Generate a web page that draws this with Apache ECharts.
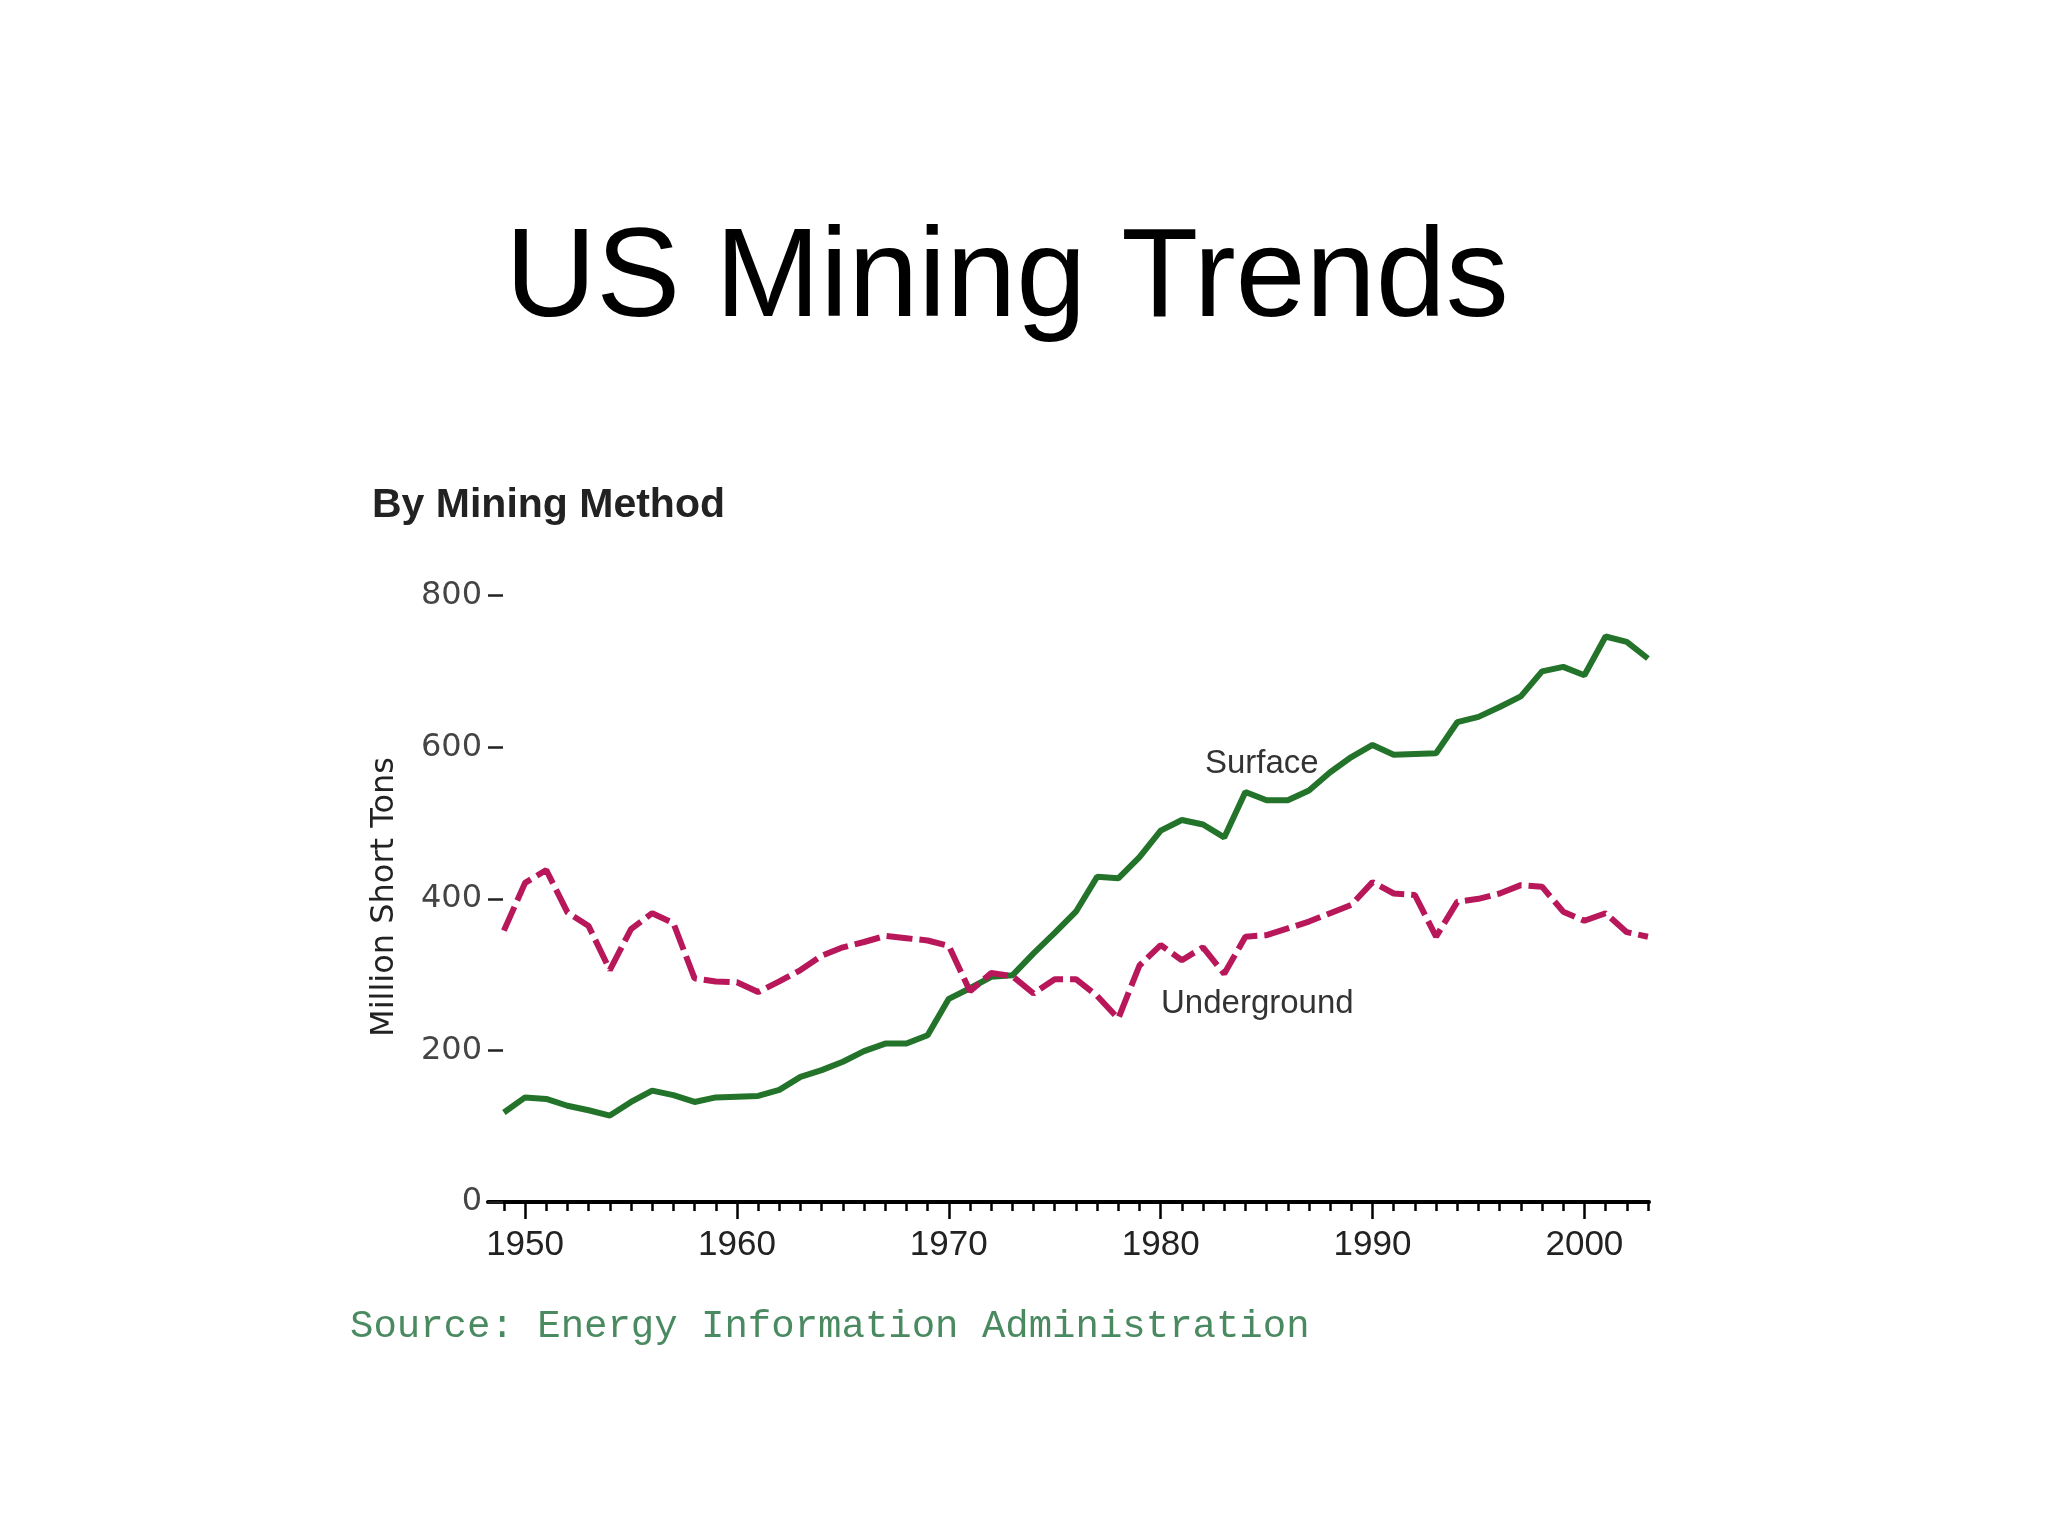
<!DOCTYPE html>
<html>
<head>
<meta charset="utf-8">
<script src="https://cdn.jsdelivr.net/npm/echarts@6/dist/echarts.min.js"></script>
<style>
html,body{margin:0;padding:0;background:#fff;}
#chart{width:2048px;height:1536px;}
</style>
</head>
<body>
<div id="chart"></div>
<script>
var years = [1949,1950,1951,1952,1953,1954,1955,1956,1957,1958,1959,1960,1961,1962,1963,1964,1965,1966,1967,1968,1969,1970,1971,1972,1973,1974,1975,1976,1977,1978,1979,1980,1981,1982,1983,1984,1985,1986,1987,1988,1989,1990,1991,1992,1993,1994,1995,1996,1997,1998,1999,2000,2001,2002,2003];
var surface = [118,138,136,127,121,114,132,147,141,132,138,139,140,148,165,174,185,199,209,209,220,268,282,297,299,328,355,383,429,427,455,490,504,498,481,541,530,530,543,567,587,603,590,591,592,633,640,653,667,700,706,695,746,739,717];
var underground = [358,421,438,382,364,306,360,381,368,295,291,290,277,291,306,325,336,343,351,348,345,338,278,302,298,275,294,294,272,242,312,339,319,336,301,350,352,361,370,381,392,422,407,405,350,396,400,407,418,416,383,371,381,356,350];
var yTicks = [0,200,400,600,800];
var decadeTicks = [1950,1960,1970,1980,1990,2000];
var yearTicks = years;

var chart = echarts.init(document.getElementById('chart'));

function pairs(vals){ return years.map(function(y,i){ return [y, vals[i]]; }); }

var option = {
  backgroundColor: '#ffffff',
  animation: false,
  grid: { left: 488, right: 399, top: 595.6, bottom: 334 },
  xAxis: [{
    type: 'value', min: 1948.25, max: 2003.05,
    axisLine: { show: true, lineStyle: { color: '#000', width: 4 } },
    axisTick: { show: true, customValues: yearTicks, length: 9, lineStyle: { color: '#000', width: 2.5 } },
    axisLabel: { show: true, customValues: decadeTicks, margin: 26, color: '#222', fontFamily: 'Liberation Sans', fontSize: 35,
      formatter: function(v){ return String(v); } },
    splitLine: { show: false }
  },{
    type: 'value', min: 1948.25, max: 2003.05, position: 'bottom',
    axisLine: { show: false },
    axisTick: { show: true, customValues: decadeTicks, length: 17, lineStyle: { color: '#000', width: 2.5 } },
    axisLabel: { show: false },
    splitLine: { show: false }
  }],
  yAxis: {
    type: 'value', min: 0, max: 800,
    axisLine: { show: false },
    axisTick: { show: true, inside: true, customValues: yTicks, length: 15, lineStyle: { color: '#222', width: 2.5 } },
    axisLabel: { customValues: yTicks, margin: 6, color: '#444', fontFamily: 'DejaVu Sans', fontSize: 32,
      formatter: function(v){ return String(v); } },
    splitLine: { show: false }
  },
  series: [{
    name: 'Surface', type: 'line', data: pairs(surface), showSymbol: false, symbol: 'none',
    lineStyle: { color: '#23742a', width: 6 }, z: 3
  },{
    name: 'Underground', type: 'line', data: pairs(underground), showSymbol: false, symbol: 'none',
    lineStyle: { color: '#b8175a', width: 6, type: [26, 7] }, z: 4
  }],
  graphic: [
    { type: 'text', x: 1007, y: 281, style: { text: 'US Mining Trends', fill: '#000', font: '126px "Liberation Sans", Arial, sans-serif', align: 'center', verticalAlign: 'middle' } },
    { type: 'text', x: 372, y: 506, style: { text: 'By Mining Method', fill: '#222', font: 'bold 41px "Liberation Sans", Arial, sans-serif', align: 'left', verticalAlign: 'middle' } },
    { type: 'text', x: 385, y: 897, rotation: Math.PI/2, style: { text: 'Million Short Tons', fill: '#222', font: '32px "DejaVu Sans", sans-serif', align: 'center', verticalAlign: 'middle' } },
    { type: 'text', x: 1205, y: 764, style: { text: 'Surface', fill: '#333', font: '33px "Liberation Sans", Arial, sans-serif', align: 'left', verticalAlign: 'middle' } },
    { type: 'text', x: 1161, y: 1004, style: { text: 'Underground', fill: '#333', font: '33px "Liberation Sans", Arial, sans-serif', align: 'left', verticalAlign: 'middle' } },
    { type: 'text', x: 350, y: 1327, style: { text: 'Source: Energy Information Administration', fill: '#4a8a60', font: '39px "Liberation Mono", "Courier New", monospace', align: 'left', verticalAlign: 'middle' } }
  ]
};
chart.setOption(option);
</script>
</body>
</html>
